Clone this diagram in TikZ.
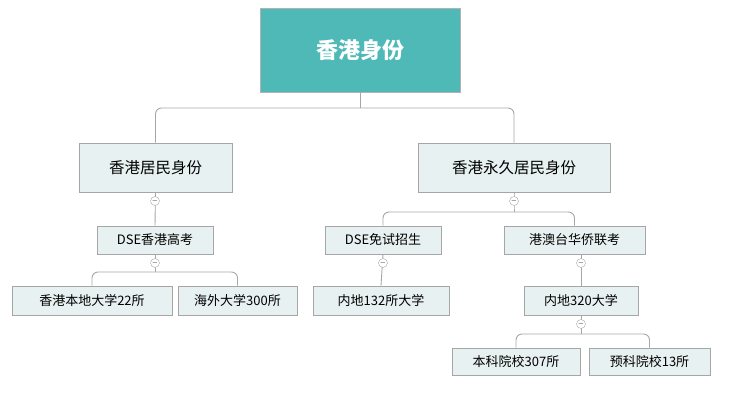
\documentclass[tikz,border=0pt]{standalone}
\usepackage{fontspec}
\setmainfont{Noto Sans CJK SC}
\definecolor{rootc}{HTML}{4EB9B6}
\definecolor{boxc}{HTML}{E8F1F1}
\begin{document}
\begin{tikzpicture}[x=1pt,y=-1pt,
 box/.style={draw=gray!70,fill=boxc,line width=0.8pt,minimum height=#1,inner sep=0pt,font=\fontsize{13}{15}\selectfont},
 box/.default=28,
 ln/.style={draw=gray!70,line width=0.9pt,rounded corners=6pt},
 tog/.style={circle,draw=gray!70,fill=white,minimum size=9pt,inner sep=0pt,font=\fontsize{7}{7}\selectfont}]
\useasboundingbox (0,0) rectangle (729,400);
\node[draw=gray!60,fill=rootc,minimum width=200,minimum height=84,text=white,font=\fontsize{22}{24}\selectfont\bfseries] (root) at (360,50) {香港身份};
\node[box=49,minimum width=153] (a) at (155.5,167.5) {\fontsize{15.5}{17}\selectfont 香港居民身份};
\node[box=49,minimum width=192] (b) at (514,167.5) {\fontsize{15.5}{17}\selectfont 香港永久居民身份};
\node[box,minimum width=116] (a1) at (155,240) {DSE香港高考};
\node[box,minimum width=116] (b1) at (383,240) {DSE免试招生};
\node[box,minimum width=141] (b2) at (574.5,240) {港澳台华侨联考};
\node[box=29,minimum width=160] (a11) at (92,300.5) {香港本地大学22所};
\node[box=29,minimum width=119] (a12) at (237.5,300.5) {海外大学300所};
\node[box=29,minimum width=136] (b11) at (381,300.5) {内地132所大学};
\node[box=29,minimum width=114] (b21) at (581,300.5) {内地320大学};
\node[box=27,minimum width=128] (c1) at (516,361.5) {本科院校307所};
\node[box=27,minimum width=121] (c2) at (649.5,361.5) {预科院校13所};
\coordinate (ta) at (155,201);
\coordinate (tb) at (514,201);
\coordinate (ta1) at (155,263);
\coordinate (tb1) at (383,263);
\coordinate (tb2) at (581,263);
\coordinate (tb21) at (581,324);
\draw[ln] (root.south) -- (360,108);
\draw[ln] (a.north) |- (360,108) -| (b.north);
\draw[ln] (a.south) -- (a1.north);
\draw[ln] (b.south) -- (tb) -- (514,212);
\draw[ln] (b1.north) |- (514,212) -| (b2.north);
\draw[ln] (a1.south) -- (155,272);
\draw[ln] (a11.north) |- (155,272) -| (a12.north);
\draw[ln] (b1.south) -- (b11.north);
\draw[ln] (tb2|-b2.south) -- (b21.north);
\draw[ln] (b21.south) -- (581,334);
\draw[ln] (c1.north) |- (581,334) -| (c2.north);
\foreach \c in {ta,tb,ta1,tb1,tb2,tb21} \node[tog] at (\c) {$-$};
\end{tikzpicture}
\end{document}
